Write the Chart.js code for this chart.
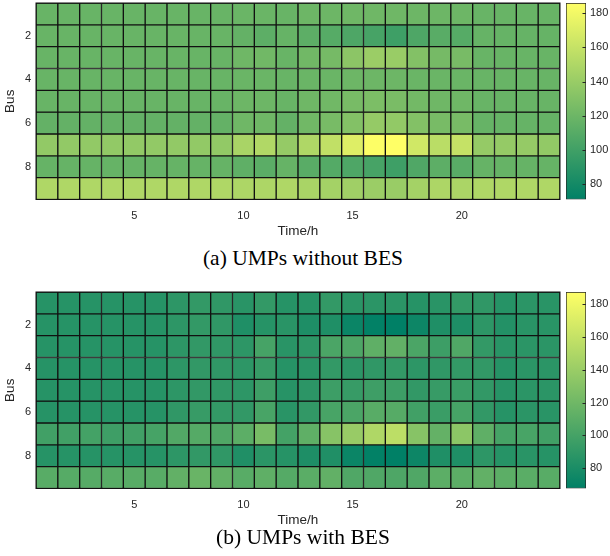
<!DOCTYPE html>
<html><head><meta charset="utf-8">
<script src="https://cdn.jsdelivr.net/npm/chart.js@4.4.1/dist/chart.umd.min.js"></script>
<style>
html,body{margin:0;padding:0;background:#fff;}
body{width:610px;height:556px;position:relative;overflow:hidden;}
.box{position:absolute;}
.cap{position:absolute;left:0;width:606px;text-align:center;font-family:'Liberation Serif','Times New Roman',serif;font-size:21.5px;line-height:1;color:#000;white-space:nowrap;}
</style></head><body>
<div class="box" style="left:0;top:0;width:565px;height:239px"><canvas id="ha"></canvas></div>
<div class="box" style="left:560px;top:0;width:50px;height:210px"><canvas id="ba"></canvas></div>
<div class="cap" style="top:247.5px">(a) UMPs without BES</div>
<div class="box" style="left:0;top:289px;width:565px;height:239.4px"><canvas id="hb"></canvas></div>
<div class="box" style="left:560px;top:289px;width:50px;height:210px"><canvas id="bb"></canvas></div>
<div class="cap" style="top:527px">(b) UMPs with BES</div>
<script>
// ---- categories / ticks ----
const hours = [1,2,3,4,5,6,7,8,9,10,11,12,13,14,15,16,17,18,19,20,21,22,23,24];
const buses = [1,2,3,4,5,6,7,8,9];
const xTickLabels = [5,10,15,20];
const busTickLabels = [2,4,6,8];
const colorbarTicks = [80,100,120,140,160,180];
const rangeA = [71, 186];
const rangeB = [67.5, 187.5];

// ---- (a) UMPs without BES, one array per bus ----
const a1 = [118,118,118,118,118,118,118,118,118,119,119,118,120,120,121,121,121,120,120,120,118,118,118,118];
const a2 = [118,118,118,118,118,118,118,118,118,116,113,117,113,110,106,103,99,106,111,110,117,117,117,117];
const a3 = [118,118,118,118,118,118,118,118,118,121,122,118,122,124,134,141,140,130,124,125,118,118,118,118];
const a4 = [118,118,118,118,118,118,118,118,118,119,119,118,119,119,120,120,120,119,119,119,118,118,118,118];
const a5 = [118,118,118,118,118,118,118,118,118,120,120,118,121,122,125,127,126,123,121,121,118,118,118,118];
const a6 = [116,116,116,116,116,116,116,116,116,121,121,116,122,125,130,138,137,130,125,125,117,117,117,117];
const a7 = [137,137,137,137,137,137,137,137,137,147,151,138,150,158,171,185,186,165,155,160,138,138,138,137];
const a8 = [117,117,117,117,117,117,117,117,117,114,112,117,111,109,106,103,99,107,113,111,117,117,117,117];
const a9 = [150,150,150,150,150,150,150,150,150,149,149,150,147,145,143,141,140,145,149,148,150,150,150,150];

// ---- (b) UMPs with BES, one array per bus ----
const b1 = [85.5,85.5,85.5,85.5,85.5,85.5,88.5,91.5,90,87,91.5,85.5,85.5,91.5,87.5,87.5,87.5,85.5,87,91.5,90,85.5,87.5,87];
const b2 = [85.5,85.5,85.5,85.5,85.5,85.5,88.5,91.5,90,82,85.5,87,81.5,82,72.5,68.5,67.5,73.5,82,81.5,88.5,84,87,87];
const b3 = [85.5,85.5,85.5,85.5,85.5,85.5,88.5,91,90,88.5,100.5,87,88.5,103,104,112,113.5,103,96,105,91.5,87,87.5,87.5];
const b4 = [85.5,85.5,85.5,85.5,85.5,85.5,88.5,91,90,88.5,93.5,85.5,87,91.5,88,90,91.5,88.5,90,91.5,91,85.5,87.5,87.5];
const b5 = [85.5,85.5,85.5,85.5,85.5,85.5,88.5,91,90,88.5,96.5,86,88,96,93.5,96.5,96,91,93.5,95,91,86,87.5,87.5];
const b6 = [85.5,85.5,85.5,85.5,85.5,85.5,90,93.5,91.5,91,101.5,87,91,101.5,103,109,108,98,95,100.5,91,85.5,87.5,87];
const b7 = [98,98,99.5,96.5,98,100.5,106,107.5,105,111,124,99.5,112,131,139,150,156,131,114.5,133.5,112,100.5,101.5,98];
const b8 = [85.5,85.5,85.5,85.5,85.5,85.5,88.5,91,90,82.5,87.5,85.5,81.5,82.5,72.5,68.5,67.5,73.5,82,82,88.5,85.5,87,85.5];
const b9 = [109,108,108,109,109,109,113.5,117,113.5,109,112,107.5,110,113.5,105,105,104,105,111,111,113.5,111,110,109];

const umpA = [a1,a2,a3,a4,a5,a6,a7,a8,a9];
const umpB = [b1,b2,b3,b4,b5,b6,b7,b8,b9];

const FONT = "'Liberation Sans', Arial, Helvetica, sans-serif";
const TXT = '#262626';

// MATLAB "summer" colormap
function summerRGB(t){
  t = Math.max(0, Math.min(1, t));
  return [Math.round(255*t), Math.round(127.5 + 127.5*t), 102];
}
function summer(v, lo, hi){
  const c = summerRGB((v - lo)/(hi - lo));
  return 'rgb(' + c.join(',') + ')';
}

function noPad(s){ s.paddingTop = 0; s.paddingBottom = 0; s.paddingLeft = 0; s.paddingRight = 0; }

const frame = {
  id: 'frame',
  afterDatasetsDraw(chart){
    const {ctx, chartArea: a} = chart;
    ctx.save();
    ctx.strokeStyle = '#111';
    ctx.lineWidth = 1;
    ctx.strokeRect(a.left, a.top, a.right - a.left, a.bottom - a.top);
    ctx.restore();
  }
};

// small inward tick marks on the right edge of the colorbar
const cbTicks = {
  id: 'cbTicks',
  afterDatasetsDraw(chart){
    const {ctx, chartArea: a} = chart;
    const y = chart.scales.y;
    ctx.save();
    ctx.strokeStyle = '#262626';
    ctx.lineWidth = 1;
    ctx.beginPath();
    y.ticks.forEach(t => {
      const py = Math.round(y.getPixelForValue(t.value)) + 0.5;
      ctx.moveTo(a.right - 3.5, py);
      ctx.lineTo(a.right, py);
    });
    ctx.stroke();
    ctx.restore();
  }
};

function heat(id, rows, range, xAxisH){
  const datasets = rows.map((vals, i) => ({
    label: 'Bus ' + buses[i],
    data: hours.map(() => [buses[i] - 0.5, buses[i] + 0.5]),
    backgroundColor: vals.map(v => summer(v, range[0], range[1])),
    borderColor: '#111',
    borderWidth: 1,
    borderSkipped: false,
    barPercentage: 1,
    categoryPercentage: 1,
    grouped: false
  }));
  new Chart(document.getElementById(id), {
    type: 'bar',
    data: { labels: hours.map(String), datasets },
    plugins: [frame],
    options: {
      animation: false, responsive: true, maintainAspectRatio: false,
      layout: { padding: { top: 3, right: 5, left: 0, bottom: 0 } },
      plugins: { legend: { display: false }, tooltip: { enabled: false } },
      scales: {
        x: {
          type: 'category',
          grid: { display: false, drawTicks: false },
          border: { display: false },
          ticks: {
            autoSkip: false, maxRotation: 0, minRotation: 0, padding: 10,
            color: TXT, font: { family: FONT, size: 11 },
            callback: (v, i) => xTickLabels.includes(hours[i]) ? String(hours[i]) : ''
          },
          title: { display: true, text: 'Time/h', color: TXT, padding: 0, font: { family: FONT, size: 13.5 } },
          afterFit: s => { s.height = xAxisH; noPad(s); }
        },
        y: {
          type: 'linear', min: 0.5, max: 9.5, reverse: true,
          grid: { display: false, drawTicks: false },
          border: { display: false },
          afterBuildTicks: s => { s.ticks = busTickLabels.map(v => ({ value: v })); },
          ticks: { padding: 5, color: TXT, font: { family: FONT, size: 11 } },
          title: { display: true, text: 'Bus', color: TXT, padding: { top: 2, bottom: 0 }, font: { family: FONT, size: 13.5 } },
          afterFit: s => { s.width = 36; noPad(s); }
        }
      }
    }
  });
}

function cbar(id, range){
  const lo = range[0], hi = range[1];
  new Chart(document.getElementById(id), {
    type: 'bar',
    data: { labels: [''], datasets: [{
      data: [[lo, hi]],
      backgroundColor: (ctx) => {
        const chart = ctx.chart;
        if (!chart.chartArea) return summer(lo, lo, hi);
        const y = chart.scales.y;
        const g = chart.ctx.createLinearGradient(0, y.getPixelForValue(lo), 0, y.getPixelForValue(hi));
        g.addColorStop(0, summer(lo, lo, hi));
        g.addColorStop(1, summer(hi, lo, hi));
        return g;
      },
      borderColor: '#262626', borderWidth: 1, borderSkipped: false,
      barPercentage: 1, categoryPercentage: 1
    }]},
    plugins: [cbTicks],
    options: {
      animation: false, responsive: true, maintainAspectRatio: false,
      layout: { padding: { top: 3, bottom: 10.5, left: 6, right: 0 } },
      plugins: { legend: { display: false }, tooltip: { enabled: false } },
      scales: {
        x: { display: false },
        y: {
          position: 'right', min: lo, max: hi,
          grid: { display: false, drawTicks: false },
          border: { display: false },
          afterBuildTicks: s => { s.ticks = colorbarTicks.map(v => ({ value: v })); },
          ticks: { padding: 4, color: TXT, font: { family: FONT, size: 11 } },
          afterFit: s => { s.width = 24; noPad(s); }
        }
      }
    }
  });
}

heat('ha', umpA, rangeA, 39.5);
cbar('ba', rangeA);
heat('hb', umpB, rangeB, 39.9);
cbar('bb', rangeB);
</script>
</body></html>
